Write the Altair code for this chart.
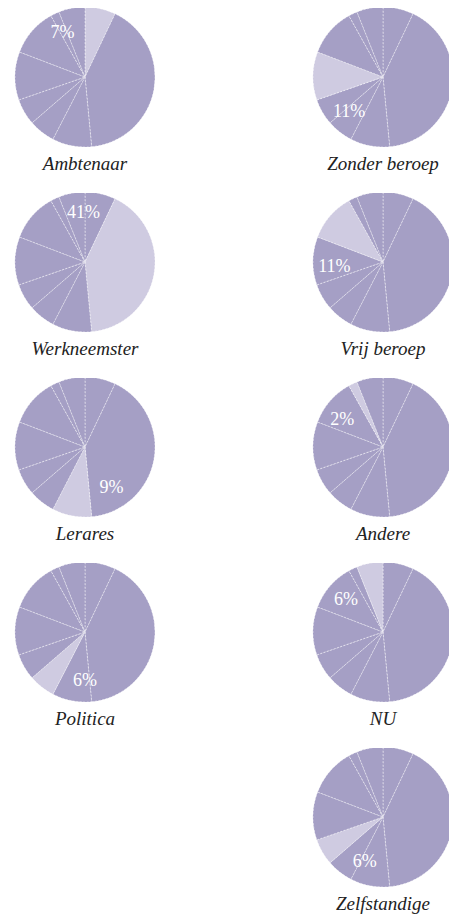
import altair as alt
import pandas as pd

# Share of each profession (percent), in pie order (clockwise from 12 o'clock)
categories = ["Ambtenaar", "Werkneemster", "Lerares", "Politica", "Zelfstandige",
              "Zonder beroep", "Vrij beroep", "Andere", "NU"]
shares = [7, 41, 9, 6, 6, 11, 11, 2, 6]

# Panel layout (None = empty cell)
left_panels = ["Ambtenaar", "Werkneemster", "Lerares", "Politica", None]
right_panels = ["Zonder beroep", "Vrij beroep", "Andere", "NU", "Zelfstandige"]

total = sum(shares)
df = pd.DataFrame({"cat": categories, "share": shares, "idx": list(range(len(categories)))})
df["start"] = df["share"].cumsum() - df["share"]

BASE = "#a59fc5"
LIGHT = "#cfcbe1"
R = 70
CX = 77
CY = 69
ROW_H = [185, 185, 185, 185, 167]
LEFT_W = 298
RIGHT_W = 143
SERIF = "Liberation Serif"


def pie(panel, width, height):
    base = alt.Chart(df).transform_calculate(hl=f"datum.cat === '{panel}'")
    theta_scale = alt.Scale(domain=[0, total])
    arcs = base.mark_arc(outerRadius=R, stroke="white", strokeWidth=0.6,
                         strokeDash=[2, 1.5], strokeOpacity=0.8, clip=True).encode(
        theta=alt.Theta("share:Q", stack=True, scale=theta_scale),
        order=alt.Order("idx:Q"),
        color=alt.condition("datum.hl", alt.value(LIGHT), alt.value(BASE)),
        x=alt.value(CX),
        y=alt.value(CY),
    )
    label = base.transform_filter("datum.hl").transform_calculate(
        lab="datum.share + '%'",
        ang=f"(datum.start - 7.5 + {total}) % {total}",
    ).mark_text(radius=49, font=SERIF, fontSize=18, color="white",
                align="center", baseline="middle").encode(
        theta=alt.Theta("ang:Q", stack=False, scale=theta_scale),
        text="lab:N",
        x=alt.value(CX),
        y=alt.value(CY),
    )
    name = base.transform_filter("datum.hl").mark_text(
        font=SERIF, fontStyle="italic", fontSize=19, color="#222222",
        align="center", baseline="alphabetic").encode(
        text="cat:N",
        x=alt.value(CX),
        y=alt.value(CY + 93),
    )
    return alt.layer(arcs, label, name).properties(width=width, height=height)


def empty(width, height):
    return alt.Chart(df).mark_point(opacity=0, size=1).encode(
        x=alt.value(1), y=alt.value(1)
    ).properties(width=width, height=height)


cells = []
for i in range(len(right_panels)):
    lp = left_panels[i]
    cells.append(pie(lp, LEFT_W, ROW_H[i]) if lp else empty(LEFT_W, ROW_H[i]))
    cells.append(pie(right_panels[i], RIGHT_W, ROW_H[i]))

chart = alt.concat(*cells, columns=2, spacing=0, bounds="flush").properties(
    padding=0
).configure_view(stroke=None)

chart.save("out.html", embed_options={"renderer": "svg", "actions": False})
